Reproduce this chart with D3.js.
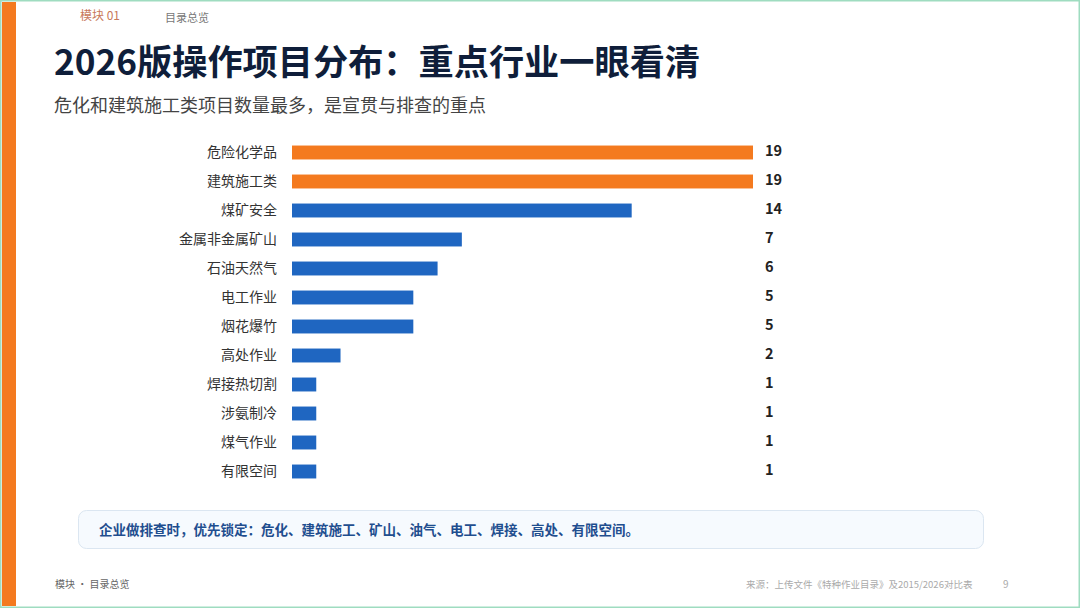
<!DOCTYPE html>
<html><head><meta charset="utf-8">
<script src="https://cdn.jsdelivr.net/npm/d3@7"></script>
<style>
html,body{margin:0;padding:0;background:#fff;}
svg{display:block;font-family:"Noto Sans CJK SC","Noto Sans",sans-serif;}
</style></head>
<body>
<svg id="c" width="1080" height="608"></svg>
<script>
const categories = ["危险化学品","建筑施工类","煤矿安全","金属非金属矿山","石油天然气","电工作业","烟花爆竹","高处作业","焊接热切割","涉氨制冷","煤气作业","有限空间"];
const values = [19,19,14,7,6,5,5,2,1,1,1,1];
const highlight = ["危险化学品","建筑施工类"];
const titleText = "2026版操作项目分布：重点行业一眼看清";
const subtitleText = "危化和建筑施工类项目数量最多，是宣贯与排查的重点";
const calloutText = "企业做排查时，优先锁定：危化、建筑施工、矿山、油气、电工、焊接、高处、有限空间。";
const sourceText = "来源：上传文件《特种作业目录》及2015/2026对比表";

const svg = d3.select("#c");
const W = 1080, H = 608;

// frame
svg.append("rect").attr("x",0).attr("y",0).attr("width",W).attr("height",H).attr("fill","#fff");
svg.append("rect").attr("x",0.75).attr("y",0.75).attr("width",W-1.5).attr("height",H-1.5)
  .attr("fill","none").attr("stroke","#9fdcc0").attr("stroke-width",1.5);
svg.append("rect").attr("x",2).attr("y",2).attr("width",14).attr("height",H-4).attr("fill","#f47a1f");

// breadcrumb
svg.append("text").attr("x",80).attr("y",20).attr("font-size",12).attr("fill","#c8785a")
  .attr("font-family","'Noto Sans CJK SC',serif").text("模块  01");
svg.append("text").attr("x",165).attr("y",22).attr("font-size",11).attr("fill","#777").text("目录总览");

// title
svg.append("text").attr("x",54).attr("y",75).attr("font-size",35.2).attr("font-weight",700)
  .attr("fill","#0f1e3a").text(titleText);
svg.append("text").attr("x",54).attr("y",112).attr("font-size",18).attr("fill","#444").text(subtitleText);

// chart
const x = d3.scaleLinear().domain([0,19]).range([292,753]);
const y = d3.scaleBand().domain(categories).range([138,486]).paddingInner(0.52).paddingOuter(0.26);

const g = svg.append("g");
g.selectAll("rect.bar").data(categories).join("rect").attr("class","bar")
  .attr("x",x(0)).attr("y",d=>y(d)).attr("height",y.bandwidth())
  .attr("width",(d,i)=>x(values[i])-x(0))
  .attr("fill",d=>highlight.includes(d)?"#f47a1f":"#1f66c1");

const yAxis = d3.axisLeft(y).tickSize(0).tickPadding(0);
const ag = g.append("g").attr("transform","translate(277,0)").call(yAxis);
ag.select(".domain").remove();
ag.selectAll("text").attr("font-size",14).attr("fill","#333")
  .attr("font-family","'Noto Sans CJK SC',sans-serif");

g.selectAll("text.val").data(categories).join("text").attr("class","val")
  .attr("x",765).attr("y",d=>y(d)+y.bandwidth()/2).attr("dy","0.22em")
  .attr("font-size",14.5).attr("font-weight",700).attr("fill","#222")
  .text((d,i)=>values[i]);

// callout
svg.append("rect").attr("x",78.5).attr("y",510.5).attr("width",905).attr("height",38).attr("rx",8)
  .attr("fill","#f6fafe").attr("stroke","#dbe6f1").attr("stroke-width",1);
svg.append("text").attr("x",99).attr("y",535).attr("font-size",13.5).attr("font-weight",700)
  .attr("fill","#1f4e8f").text(calloutText);

// footer
svg.append("text").attr("x",55).attr("y",588).attr("font-size",10).attr("fill","#666").text("模块 · 目录总览");
svg.append("text").attr("x",746).attr("y",588).attr("font-size",9.5).attr("fill","#aaa").text(sourceText);
svg.append("text").attr("x",1003).attr("y",588).attr("font-size",10).attr("fill","#aaa").text("9");
</script>
</body></html>
